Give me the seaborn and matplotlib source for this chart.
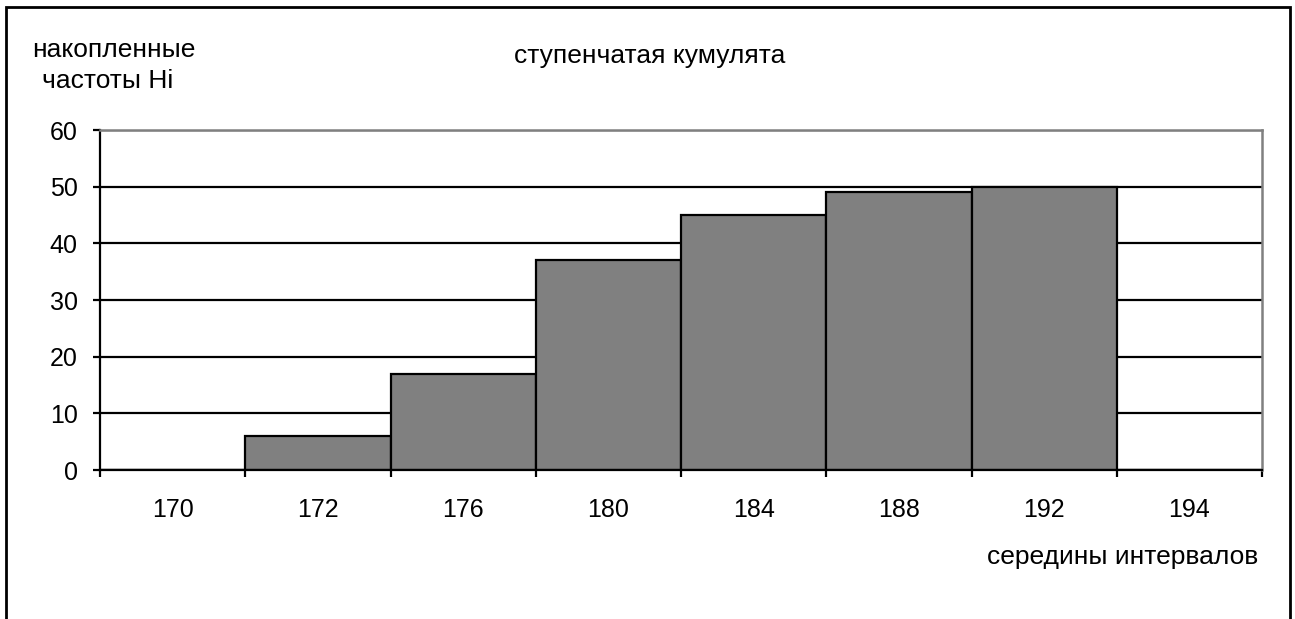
import matplotlib
matplotlib.use("Agg")
import matplotlib.pyplot as plt
import matplotlib.patches as mpatches
import pandas as pd
import seaborn as sns

# interval midpoints and cumulative frequencies
midpoints = ["170", "172", "176", "180", "184", "188", "192", "194"]
cum_freq = [0, 6, 17, 37, 45, 49, 50, 0]

df = pd.DataFrame({"mid": midpoints, "Hi": cum_freq})

sns.set_style("white")
plt.rcParams["font.family"] = ["Liberation Sans", "DejaVu Sans"]
plt.rcParams["text.color"] = "black"
plt.rcParams["xtick.color"] = "black"
plt.rcParams["ytick.color"] = "black"

W, H = 1295, 619
fig = plt.figure(figsize=(W / 100, H / 100), dpi=100)
ax = fig.add_axes([100 / W, 1 - 470 / H, 1162 / W, 340 / H])

sns.barplot(
    data=df, x="mid", y="Hi", order=midpoints, ax=ax,
    width=1.0, color="#808080", saturation=1,
    edgecolor="black", linewidth=1.6,
)

ax.set_xlim(-0.5, len(midpoints) - 0.5)
ax.set_ylim(0, 60)
ax.set_yticks(range(0, 61, 10))

# horizontal grid lines behind the bars
ax.set_axisbelow(True)
ax.yaxis.grid(True, color="black", linewidth=1.6)

for side in ["left", "bottom"]:
    ax.spines[side].set_color("black")
    ax.spines[side].set_linewidth(1.6)
for side in ["top", "right"]:
    ax.spines[side].set_color("#808080")
    ax.spines[side].set_linewidth(1.8)

# tick marks on the boundaries between categories, labels at the centres
ax.set_xticks([i + 0.5 for i in range(-1, len(midpoints))], minor=False)
ax.set_xticklabels([])
ax.set_xticks(range(len(midpoints)), minor=True)
ax.set_xticklabels(midpoints, minor=True)
ax.tick_params(axis="x", which="major", direction="out", length=5, width=1.6,
               color="black", bottom=True)
ax.tick_params(axis="x", which="minor", length=0, pad=20, labelsize=18,
               labelcolor="black")
ax.tick_params(axis="y", direction="out", length=5, width=1.6, color="black",
               left=True, pad=11, labelsize=18, labelcolor="black")

ax.set_xlabel("")
ax.set_ylabel("")

fs = 19
fig.text(32 / W, 1 - 57 / H, "накопленные", fontsize=fs, va="baseline", ha="left")
fig.text(42 / W, 1 - 88 / H, "частоты Hi", fontsize=fs, va="baseline", ha="left")
fig.text(650 / W, 1 - 63 / H, "ступенчатая кумулята", fontsize=fs,
         va="baseline", ha="center")
fig.text(1258 / W, 1 - 564 / H, "середины интервалов", fontsize=fs,
         va="baseline", ha="right")

# outer frame around the chart area (bottom edge falls outside the image)
frame = mpatches.Rectangle(
    (6 / W, -0.1), 1284 / W, 1.1 - 7 / H,
    transform=fig.transFigure, fill=False, edgecolor="black", linewidth=2,
    clip_on=False,
)
fig.add_artist(frame)

fig.savefig("out.png", dpi=100)
